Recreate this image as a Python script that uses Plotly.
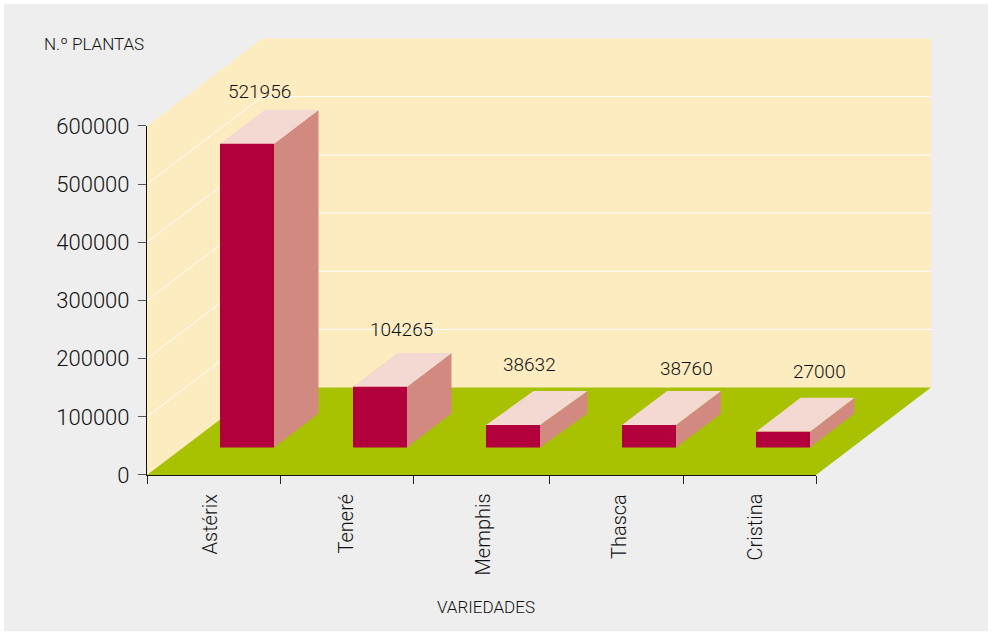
import plotly.graph_objects as go

# Data
categories = ["Astérix", "Teneré", "Memphis", "Thasca", "Cristina"]
plants = [521956, 104265, 38632, 38760, 27000]
y_ticks = [0, 100000, 200000, 300000, 400000, 500000, 600000]
y_title = "N.º PLANTAS"
x_title = "VARIEDADES"

# Layout constants (pixels; x axis is scaled 1 unit = 1 px)
W, H = 992, 635
L, AX_R, WALL_R, T, AX_T, B = 147, 816, 931, 38, 126, 475.5
slot_edges = [0, 133, 266, 402, 536, 669]
depth_x, depth_y_px = 115, 87.5
bar_offset = 73
bar_w = 54
front_px = 27.5
bar_dx = [44.5, 44.5, 47.5, 45, 44.5]
bar_dy_px = 34
label_dx = [39.5, 48, 43, 64, 63]
label_dy = [18, 23, 27, 23, 26]
cat_label_px = [209, 345.5, 482.5, 618.5, 754]

y_top = 600000
val_per_px = y_top / (B - AX_T)
dy = depth_y_px * val_per_px
y_full = (B - T) * val_per_px
X_END = slot_edges[-1]
X_FULL = WALL_R - L

COL_WALL = "#FEECC1"
COL_FLOOR = "#A8C100"
COL_FRONT = "#B2003C"
COL_SIDE = "#D28A80"
COL_TOP = "#F3D9D1"
COL_TXT = "#111111"
FONT = "Roboto"
WEIGHT = 300

def poly(points, color, name):
    xs = [p[0] for p in points] + [points[0][0]]
    ys = [p[1] for p in points] + [points[0][1]]
    return go.Scatter(x=xs, y=ys, mode="lines", fill="toself", fillcolor=color,
                      line=dict(width=0), hoverinfo="skip", name=name,
                      showlegend=False)

fig = go.Figure()

# Walls and floor
fig.add_trace(poly([(0, 0), (depth_x, dy), (depth_x + X_END, dy),
                    (depth_x + X_END, dy + y_top), (depth_x, dy + y_top), (0, y_top)],
                   COL_WALL, "walls"))
fig.add_trace(poly([(0, 0), (X_END, 0), (X_END + depth_x, dy), (depth_x, dy)],
                   COL_FLOOR, "floor"))

# Wall gridlines
for v in y_ticks[1:-1]:
    fig.add_trace(go.Scatter(x=[0, depth_x, depth_x + X_END], y=[v, v + dy, v + dy],
                             mode="lines", line=dict(color="white", width=1),
                             hoverinfo="skip", showlegend=False))

# Bars
front_y = front_px * val_per_px
b_dy = bar_dy_px * val_per_px
for i, (cat, v) in enumerate(zip(categories, plants)):
    x0 = slot_edges[i] + bar_offset
    x1 = x0 + bar_w
    y0 = front_y
    y1 = front_y + v
    d = bar_dx[i]
    fig.add_trace(poly([(x1, y0), (x1 + d, y0 + b_dy), (x1 + d, y1 + b_dy), (x1, y1)],
                       COL_SIDE, cat + " side"))
    fig.add_trace(poly([(x0, y1), (x1, y1), (x1 + d, y1 + b_dy), (x0 + d, y1 + b_dy)],
                       COL_TOP, cat + " top"))
    fig.add_trace(poly([(x0, y0), (x1, y0), (x1, y1), (x0, y1)], COL_FRONT, cat))

# Invisible trace that brings the visible axes to life
fig.add_trace(go.Scatter(x=[0, X_END], y=[0, y_top], xaxis="x2", yaxis="y2", mode="markers",
                         marker=dict(opacity=0), hoverinfo="skip", showlegend=False))

def px_x(p):
    return (p - L) / X_FULL

def px_y(p):
    return (B - p) / (B - T)

annotations = []
for i, (cat, v) in enumerate(zip(categories, plants)):
    x0 = slot_edges[i] + bar_offset
    annotations.append(dict(x=x0 + label_dx[i], y=front_y + v + b_dy,
                            xref="x", yref="y", text=str(v), showarrow=False,
                            xanchor="center", yanchor="middle", yshift=label_dy[i],
                            font=dict(family=FONT, size=19, color=COL_TXT, weight=WEIGHT)))
    annotations.append(dict(x=cat_label_px[i] - L, y=0, xref="x", yref="y", text=cat,
                            showarrow=False, textangle=-90, xanchor="center", yanchor="top",
                            yshift=-17,
                            font=dict(family=FONT, size=20, color=COL_TXT, weight=WEIGHT)))

annotations.append(dict(x=px_x(44), y=px_y(44), xref="paper", yref="paper", text=y_title,
                        showarrow=False, xanchor="left", yanchor="middle", xshift=-2,
                        font=dict(family=FONT, size=17, color=COL_TXT, weight=WEIGHT)))
annotations.append(dict(x=px_x(485.5), y=px_y(608), xref="paper", yref="paper", text=x_title,
                        showarrow=False, xanchor="center", yanchor="middle",
                        font=dict(family=FONT, size=17, color=COL_TXT, weight=WEIGHT)))

fig.update_layout(
    width=W, height=H, autosize=False,
    margin=dict(l=L, r=W - WALL_R, t=T, b=H - B, pad=0),
    paper_bgcolor="white", plot_bgcolor="rgba(0,0,0,0)",
    showlegend=False, annotations=annotations,
    shapes=[dict(type="rect", xref="paper", yref="paper", layer="below",
                 x0=px_x(4), x1=px_x(988), y0=px_y(632), y1=px_y(4),
                 fillcolor="#EEEEEE", line=dict(width=0))],
    xaxis=dict(domain=[0, 1], range=[0, X_FULL], visible=False),
    yaxis=dict(domain=[0, 1], range=[0, y_full], visible=False),
    xaxis2=dict(domain=[0, X_END / X_FULL], range=[0, X_END], anchor="y2",
                tickmode="array", tickvals=slot_edges, ticktext=[""] * 6,
                ticks="outside", ticklen=8, tickwidth=1, tickcolor="#222222",
                showline=True, linecolor="#111111", linewidth=1.2, showgrid=False, zeroline=False),
    yaxis2=dict(domain=[0, (B - AX_T) / (B - T)], range=[0, y_top], anchor="x2",
                tickmode="array", tickvals=y_ticks, ticktext=[str(t) for t in y_ticks],
                ticks="outside", ticklen=8, tickwidth=1, tickcolor="#555555",
                ticklabelstandoff=4,
                tickfont=dict(family=FONT, size=22, color=COL_TXT, weight=WEIGHT),
                showline=True, linecolor="#111111", linewidth=1.2, showgrid=False, zeroline=False),
)

fig.write_html("out.html", config={"displayModeBar": False},
               post_script="document.body.style.margin='0';")
